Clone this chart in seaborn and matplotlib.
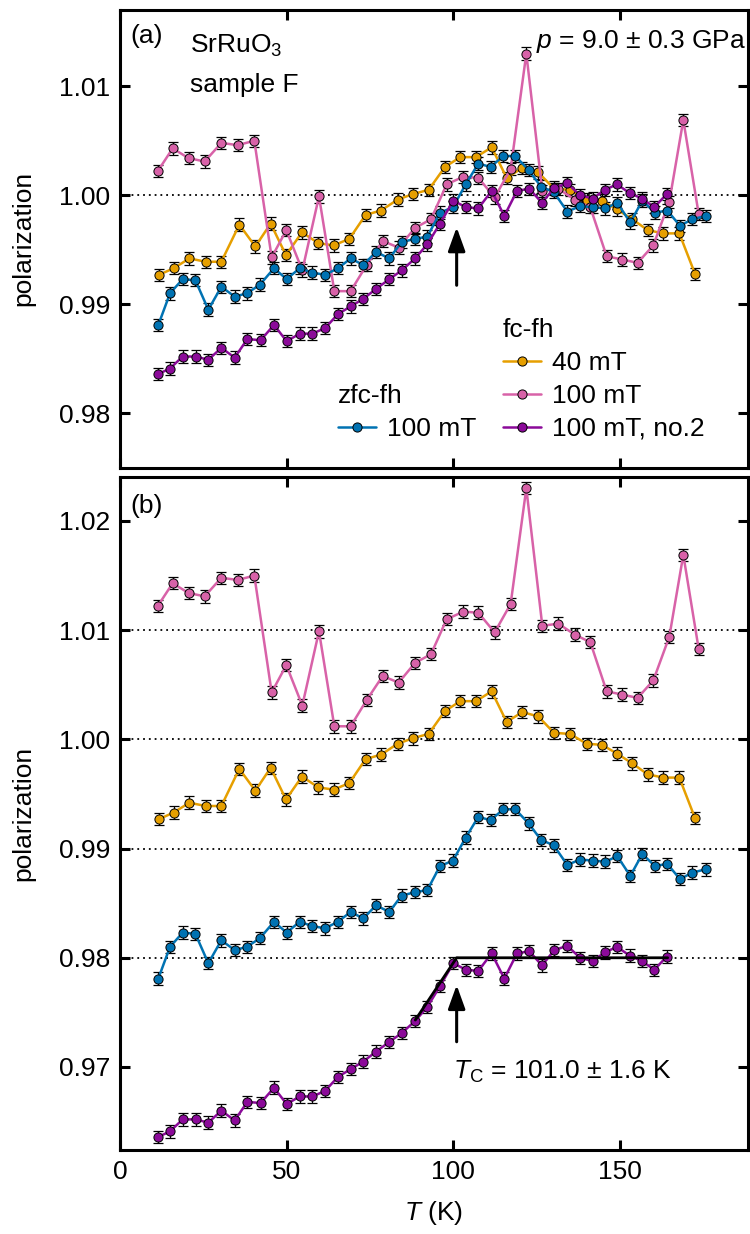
import matplotlib
matplotlib.use("Agg")
import matplotlib.pyplot as plt
import seaborn as sns
import pandas as pd

# ---- data: temperature (K) and neutron polarization ----
T_fc40 = [11.7, 16.1, 20.8, 25.7, 30.4, 35.8, 40.6, 45.2, 49.8, 54.6, 59.5, 64.1,
          68.8, 73.7, 78.3, 83.3, 87.8, 92.6, 97.5, 102.1, 106.8, 111.5, 116.0,
          120.7, 125.5, 130.2, 135.0, 140.0, 144.6, 149.1, 153.7, 158.3, 163.0,
          167.8, 172.5]
P_fc40 = [0.9927, 0.9933, 0.9942, 0.9939, 0.9939, 0.9973, 0.9953, 0.9974, 0.9945,
          0.9966, 0.9956, 0.9954, 0.9960, 0.9982, 0.9986, 0.9996, 1.0001, 1.0005,
          1.0026, 1.0035, 1.0035, 1.0044, 1.0016, 1.0025, 1.0021, 1.0006, 1.0005,
          0.9996, 0.9995, 0.9987, 0.9978, 0.9968, 0.9965, 0.9965, 0.9928]

T_fc100 = [11.3, 15.8, 20.6, 25.4, 30.4, 35.3, 40.3, 45.5, 49.9, 54.7, 59.7, 64.3,
           69.2, 74.0, 78.8, 83.6, 88.5, 93.3, 98.0, 103.0, 107.5, 112.4, 117.2,
           121.9, 126.7, 131.5, 136.4, 141.1, 146.0, 150.7, 155.3, 160.0, 164.8,
           169.0, 173.6]
P_fc100 = [1.0022, 1.0043, 1.0034, 1.0031, 1.0048, 1.0046, 1.0050, 0.9943, 0.9968,
           0.9931, 0.9999, 0.9912, 0.9912, 0.9936, 0.9958, 0.9952, 0.9970, 0.9978,
           1.0010, 1.0017, 1.0016, 0.9998, 1.0024, 1.0130, 1.0004, 1.0006, 0.9996,
           0.9989, 0.9944, 0.9941, 0.9938, 0.9954, 0.9994, 1.0069, 0.9983]

T_zfc100 = [11.5, 15.0, 18.8, 22.6, 26.5, 30.4, 34.4, 38.1, 42.0, 46.2, 50.0, 53.9,
            57.7, 61.5, 65.4, 69.2, 73.0, 76.8, 80.8, 84.5, 88.5, 92.2, 96.0, 99.9,
            103.7, 107.5, 111.2, 115.0, 118.6, 122.6, 126.3, 130.1, 134.2, 138.0,
            141.8, 145.6, 149.2, 153.1, 156.7, 160.5, 164.2, 168.0, 171.7, 175.7]
P_zfc100 = [0.9881, 0.9910, 0.9923, 0.9922, 0.9895, 0.9916, 0.9907, 0.9910, 0.9918,
            0.9933, 0.9923, 0.9933, 0.9929, 0.9927, 0.9933, 0.9942, 0.9936, 0.9948,
            0.9942, 0.9957, 0.9960, 0.9962, 0.9984, 0.9989, 1.0010, 1.0029, 1.0026,
            1.0036, 1.0036, 1.0023, 1.0008, 1.0003, 0.9985, 0.9990, 0.9989, 0.9988,
            0.9993, 0.9975, 0.9995, 0.9984, 0.9986, 0.9972, 0.9978, 0.9981]

T_fc100b = [11.5, 15.0, 18.8, 22.7, 26.5, 30.4, 34.4, 38.2, 42.2, 46.2, 50.0, 53.9,
            57.7, 61.5, 65.4, 69.2, 73.0, 76.8, 80.8, 84.5, 88.5, 92.2, 96.0, 100.0,
            103.8, 107.5, 111.5, 115.3, 119.1, 122.8, 126.6, 130.3, 134.2, 138.0,
            141.8, 145.5, 149.1, 152.9, 156.6, 160.3, 164.0]
P_fc100b = [0.9836, 0.9841, 0.9852, 0.9852, 0.9849, 0.9860, 0.9851, 0.9868, 0.9867,
            0.9881, 0.9866, 0.9873, 0.9873, 0.9878, 0.9891, 0.9898, 0.9905, 0.9914,
            0.9923, 0.9931, 0.9942, 0.9955, 0.9974, 0.9995, 0.9989, 0.9988, 1.0004,
            0.9981, 1.0004, 1.0006, 0.9993, 1.0007, 1.0011, 1.0000, 0.9997, 1.0005,
            1.0010, 1.0002, 0.9997, 0.9989, 1.0001]

ERR = 0.00057  # polarization uncertainty per point

# vertical offsets used in panel (b)
OFF_fc40, OFF_fc100, OFF_zfc100, OFF_fc100b = 0.0, 0.01, -0.01, -0.02

# kink fit to the fc 100 mT no.2 curve
T_fit = [88.6, 101.0, 164.3]
P_fit = [0.9943, 1.0000, 1.0000]
TC = 101.0

C_ORANGE = "#E69F00"
C_PINK = "#D862A8"
C_BLUE = "#0072B2"
C_PURPLE = "#8B0A99"

series = [
    ("40 mT", T_fc40, P_fc40, C_ORANGE, OFF_fc40),
    ("100 mT", T_fc100, P_fc100, C_PINK, OFF_fc100),
    ("100 mT zfc", T_zfc100, P_zfc100, C_BLUE, OFF_zfc100),
    ("100 mT, no.2", T_fc100b, P_fc100b, C_PURPLE, OFF_fc100b),
]

# ---- style ----
sns.set_style("ticks")
plt.rcParams["font.family"] = ["Liberation Sans", "DejaVu Sans"]
plt.rcParams["mathtext.fontset"] = "custom"
plt.rcParams["mathtext.rm"] = "Liberation Sans"
plt.rcParams["mathtext.it"] = "Liberation Sans:italic"
plt.rcParams["mathtext.bf"] = "Liberation Sans:bold"
for key in ["text.color", "axes.labelcolor", "xtick.color", "ytick.color",
            "axes.edgecolor"]:
    plt.rcParams[key] = "black"
FS = 19

fig = plt.figure(figsize=(7.5, 12.34), dpi=100)
ax_a = fig.add_axes([0.16, 0.6210, 0.8373, 0.3709])
ax_b = fig.add_axes([0.16, 0.0681, 0.8373, 0.5451])


def draw_series(ax, name, T, P, color, offset):
    y = [p + offset for p in P]
    df = pd.DataFrame({"T": T, "P": y})
    ax.errorbar(df["T"], df["P"], yerr=ERR, fmt="none", ecolor="black",
                elinewidth=0.9, capsize=3.6, capthick=0.9, zorder=2)
    sns.lineplot(data=df, x="T", y="P", ax=ax, color=color, marker="o",
                 markersize=6.6, markeredgecolor="black", markeredgewidth=0.7,
                 markerfacecolor=color, linewidth=1.8, estimator=None,
                 sort=False, legend=False, zorder=3)
    return ax.lines[-1]


def style_axes(ax, ylim, yticks):
    ax.set_xlim(0, 188.4)
    ax.set_ylim(*ylim)
    ax.set_xticks([0, 50, 100, 150])
    ax.set_yticks(yticks)
    ax.set_yticklabels([f"{v:.2f}" for v in yticks])
    ax.tick_params(axis="both", which="major", direction="in", length=7,
                   width=2.2, top=True, right=True, labelsize=FS, pad=7,
                   color="black", labelcolor="black")
    for sp in ax.spines.values():
        sp.set_linewidth(2.2)
        sp.set_color("black")
    ax.set_ylabel("polarization", fontsize=FS)
    ax.yaxis.set_label_coords(-0.135, 0.5)
    ax.grid(False)


DOT = dict(color="black", linewidth=1.3, linestyle=(0, (1, 2.2)), zorder=1)
ARROW = dict(arrowstyle="-|>,head_length=0.72,head_width=0.26",
             mutation_scale=20, lw=2.2, color="black", shrinkA=0, shrinkB=0)

# ---- panel (a) ----
ax_a.axhline(1.00, **DOT)
handles = {}
for name, T, P, color, _ in series:
    handles[name] = draw_series(ax_a, name, T, P, color, 0.0)
style_axes(ax_a, (0.975, 1.017), [0.98, 0.99, 1.00, 1.01])
ax_a.tick_params(axis="x", labelbottom=False)
ax_a.set_xlabel("")

ax_a.annotate("", xy=(TC, 0.99706), xytext=(TC, 0.99174), arrowprops=ARROW,
              zorder=5)

ax_a.text(0.016, 0.9272, "(a)", transform=ax_a.transAxes, fontsize=FS,
          ha="left", va="baseline")
ax_a.text(0.1115, 0.9054, r"SrRuO$_3$", transform=ax_a.transAxes, fontsize=FS,
          ha="left", va="baseline")
ax_a.text(0.1115, 0.8215, "sample F", transform=ax_a.transAxes, fontsize=FS,
          ha="left", va="baseline")
ax_a.text(0.9968, 0.9163, r"$p$ = 9.0 ± 0.3 GPa", transform=ax_a.transAxes,
          fontsize=FS, ha="right", va="baseline")

leg_common = dict(frameon=False, borderpad=0, alignment="left", handlelength=1.45,
                  handletextpad=0.4, fontsize=FS, title_fontsize=FS,
                  labelspacing=0.34, loc="upper left")
leg1 = ax_a.legend([handles["100 mT zfc"]], ["100 mT"], title="zfc-fh",
                   bbox_to_anchor=(0.326, 0.211), **leg_common)
ax_a.add_artist(leg1)
ax_a.legend([handles["40 mT"], handles["100 mT"], handles["100 mT, no.2"]],
            ["40 mT", "100 mT", "100 mT, no.2"], title="fc-fh",
            bbox_to_anchor=(0.589, 0.356), **leg_common)

# ---- panel (b) ----
for lvl in [1.01, 1.00, 0.99, 0.98]:
    ax_b.axhline(lvl, **DOT)
for name, T, P, color, off in series:
    draw_series(ax_b, name, T, P, color, off)
style_axes(ax_b, (0.9624, 1.024), [0.97, 0.98, 0.99, 1.00, 1.01, 1.02])
ax_b.set_xlabel(r"$T$ (K)", fontsize=FS, labelpad=11)

ax_b.plot(T_fit, [p + OFF_fc100b for p in P_fit], color="black", lw=2.0, zorder=4)
ax_b.annotate("", xy=(TC, 0.9775), xytext=(TC, 0.97231), arrowprops=ARROW,
              zorder=5)
ax_b.text(0.016, 0.9465, "(b)", transform=ax_b.transAxes, fontsize=FS,
          ha="left", va="baseline")
ax_b.text(0.5308, 0.1051, r"$T_\mathrm{C}$ = 101.0 ± 1.6 K",
          transform=ax_b.transAxes, fontsize=FS, ha="left", va="baseline")

fig.savefig("out.png", dpi=100)
